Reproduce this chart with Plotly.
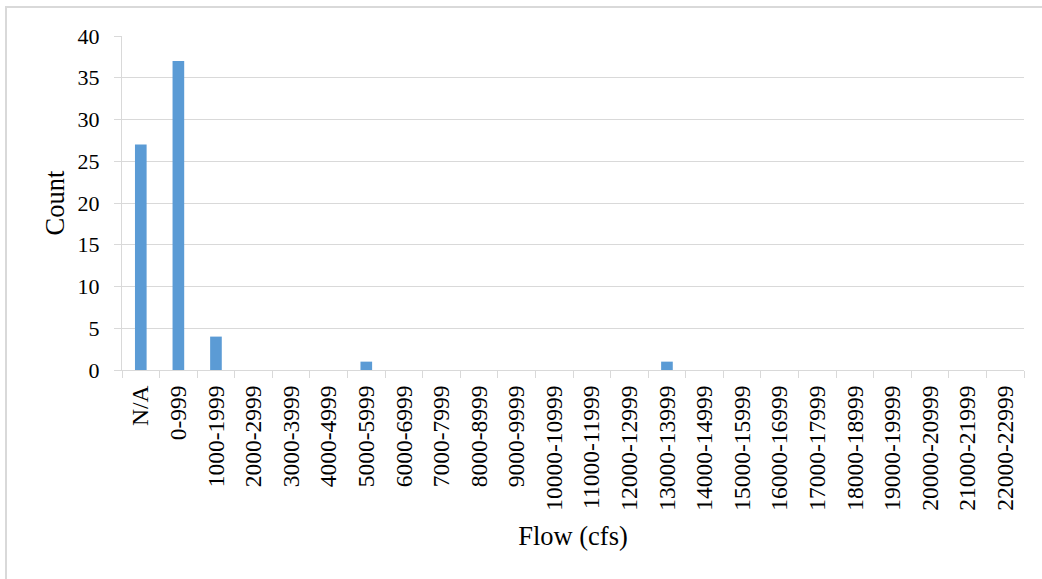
import plotly.graph_objects as go

categories = ["N/A", "0-999", "1000-1999", "2000-2999", "3000-3999", "4000-4999",
              "5000-5999", "6000-6999", "7000-7999", "8000-8999", "9000-9999",
              "10000-10999", "11000-11999", "12000-12999", "13000-13999",
              "14000-14999", "15000-15999", "16000-16999", "17000-17999",
              "18000-18999", "19000-19999", "20000-20999", "21000-21999",
              "22000-22999"]
counts = [27, 37, 4, 0, 0, 0, 1, 0, 0, 0, 0, 0, 0, 0, 1,
          0, 0, 0, 0, 0, 0, 0, 0, 0]
y_ticks = [0, 5, 10, 15, 20, 25, 30, 35, 40]

W, H = 1042, 579
ML, MR, MT, MB = 122, 18, 36, 209
PW, PH = W - ML - MR, H - MT - MB

font_family = "Liberation Serif, Times New Roman, serif"
grid = "#d9d9d9"

fig = go.Figure(go.Bar(x=categories, y=counts, marker_color="#5b9bd5",
                       marker_line_width=0))

# outer chart frame, clipped by the page edges on the right and bottom
fig.add_shape(type="rect", xref="paper", yref="paper",
              x0=(6 - ML) / PW, x1=1.3, y0=-1.0, y1=(H - MB - 7) / PH,
              line=dict(color="#d9d9d9", width=2), fillcolor="rgba(0,0,0,0)",
              layer="below")

fig.update_layout(
    width=W, height=H,
    margin=dict(l=ML, r=MR, t=MT, b=MB, pad=0),
    paper_bgcolor="white", plot_bgcolor="white",
    bargap=0.69,
    showlegend=False,
    font=dict(family=font_family, size=22, color="#000000"),
    xaxis=dict(
        type="category",
        tickangle=-90,
        ticks="outside", ticklen=7, tickcolor=grid, tickwidth=1,
        tickson="boundaries",
        ticklabelstandoff=5,
        showline=True, linecolor=grid, linewidth=1,
        showgrid=False,
        tickfont=dict(family=font_family, size=23.5),
        title=dict(text="Flow (cfs)", font=dict(family=font_family, size=26.5),
                   standoff=16),
    ),
    yaxis=dict(
        range=[0, 40],
        tickvals=y_ticks,
        ticks="outside", ticklen=7, tickcolor=grid, tickwidth=1,
        ticklabelstandoff=10,
        showline=True, linecolor=grid, linewidth=1,
        showgrid=True, gridcolor=grid, gridwidth=1,
        zeroline=False,
        tickfont=dict(family=font_family, size=22),
        title=dict(text="Count", font=dict(family=font_family, size=26.5),
                   standoff=5),
    ),
)

fig.write_html("out.html")
